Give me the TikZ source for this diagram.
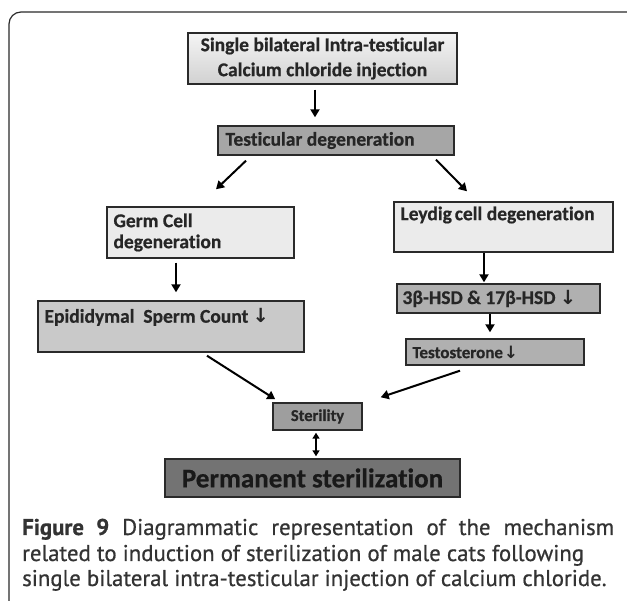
\documentclass[tikz,border=0pt]{standalone}
\usepackage{fontspec}
\setmainfont[Ligatures=NoCommon, BoldFeatures={FakeBold=0.6}]{Carlito}
\newfontfamily\capfont[FakeBold=0.7]{PT Sans}
\newfontfamily\symf{DejaVu Sans}
\usetikzlibrary{arrows.meta,shadows}
\definecolor{txtc}{HTML}{262626}
\definecolor{capc}{HTML}{333333}
\definecolor{linec}{HTML}{2A2A2A}
\newcommand{\dnarr}{{\symf\bfseries ↓}}
\begin{document}
\begin{tikzpicture}[x=1pt,y=-1pt,
  box/.style={draw=linec, line width=1.4pt, inner sep=0pt,
    drop shadow={shadow xshift=1.3pt,shadow yshift=-1.3pt,opacity=0.35}},
  btxt/.style={font=\bfseries\fontsize{19.5}{25}\selectfont, text=txtc, inner sep=0pt, align=center},
  ltxt/.style={font=\bfseries\fontsize{19.5}{21}\selectfont, text=txtc, inner sep=0pt, align=left},
  arr/.style={draw=black, line width=2pt, -{Triangle[length=8pt,width=9pt]}},
  darr/.style={draw=black, line width=2pt, {Triangle[length=6pt,width=7pt]}-{Triangle[length=6pt,width=7pt]}},
  capt/.style={font=\capfont\fontsize{22.8}{26}\selectfont, text=capc, inner sep=0pt, anchor=base west},
  frame/.style={draw=linec, line width=1.2pt}
]
\useasboundingbox (0,0) rectangle (627,601);
% outer frame (open on right and bottom)
\draw[frame] (9,601) -- (9,24) arc[start angle=180, end angle=90, radius=12pt] -- (627,12);

% boxes
\node[box, top color=white!96!black, bottom color=white!82!black, minimum width=269pt, minimum height=51pt] (top) at (322.5,58.5) {};
\node[box, fill=white!65!black, minimum width=236pt, minimum height=29pt] (testic) at (336,140.5) {};
\node[box, fill=white!92!black, minimum width=187pt, minimum height=51pt] (germ) at (200.5,232.5) {};
\node[box, fill=white!92!black, minimum width=219pt, minimum height=50pt] (leydig) at (503.5,227) {};
\node[box, fill=white!79!black, minimum width=266pt, minimum height=51pt] (epid) at (171,326.5) {};
\node[box, fill=white!69!black, minimum width=203pt, minimum height=29pt] (hsd) at (498.5,298.5) {};
\node[box, fill=white!69!black, minimum width=178pt, minimum height=26pt] (testo) at (495,352) {};
\node[box, fill=white!62!black, minimum width=89pt, minimum height=27pt] (ster) at (317.5,416.5) {};
\node[box, fill=white!45!black, minimum width=295pt, minimum height=38pt] (perm) at (312.5,478) {};

% texts
\node[btxt] (ttop) at (top.center) {Single bilateral Intra-testicular\\Calcium chloride injection};
\node[ltxt, anchor=west] (ttestic) at ([xshift=8pt]testic.west) {Testicular degeneration};
\node[ltxt, anchor=north west] (tgerm) at ([xshift=7pt,yshift=-7pt]germ.north west) {Germ Cell\\degeneration};
\node[ltxt, anchor=north west] (tleydig) at ([xshift=7pt,yshift=-5pt]leydig.north west) {Leydig\hspace{-1.5pt} cell degeneration};
\node[ltxt, anchor=north west] (tepid) at ([xshift=7pt,yshift=-8pt]epid.north west) {Epididymal\ \ Sperm Count \dnarr};
\node[btxt, anchor=west] (thsd) at ([xshift=6pt]hsd.west) {3β-HSD \& 17β-HSD \dnarr};
\node[ltxt, font=\bfseries\fontsize{17}{20}\selectfont, anchor=west] (ttesto) at ([xshift=7pt]testo.west) {Testosterone\hspace{1pt}\dnarr};
\node[btxt, font=\bfseries\fontsize{16.5}{20}\selectfont] (tster) at (ster.center) {Sterility};
\node[btxt, font=\bfseries\fontsize{27}{30}\selectfont, text=black!90] (tperm) at (perm.center) {Permanent sterilization};

% connectors
\draw[arr] ([xshift=-7.5pt,yshift=-5pt]top.south) -- ([xshift=-21pt,yshift=8pt]testic.north);
\draw[arr] ([xshift=-90pt,yshift=-5pt]testic.south) -- ([xshift=15.5pt,yshift=17pt]germ.north);
\draw[arr] ([xshift=100pt,yshift=-4pt]testic.south) -- ([xshift=-36.5pt,yshift=10pt]leydig.north);
\draw[arr] ([xshift=-24.5pt,yshift=-4pt]germ.south) -- ([xshift=5pt,yshift=8pt]epid.north);
\draw[arr] ([xshift=-19.5pt]leydig.south) -- ([xshift=-14.5pt,yshift=1pt]hsd.north);
\draw[arr] ([xshift=-8.5pt]hsd.south) -- ([xshift=-5pt,yshift=6pt]testo.north);
\draw[arr] ([xshift=36pt,yshift=-3pt]epid.south) -- ([xshift=3pt,yshift=3pt]ster.north west);
\draw[arr] ([xshift=-35pt,yshift=-5pt]testo.south) -- ([xshift=18pt,yshift=5pt]ster.north east);
\draw[darr] ([xshift=-1.5pt,yshift=-2pt]ster.south) -- ([xshift=3.5pt,yshift=2pt]perm.north);

% caption
\node[capt] (cap1) at (22,535) {\makebox[592pt][s]{{\bfseries Figure 9} Diagrammatic representation of the mechanism}};
\node[capt] (cap2) at (22,561) {related to induction of sterilization of male cats following};
\node[capt] (cap3) at (22,586) {single bilateral intra-testicular injection of calcium chloride.};
\end{tikzpicture}
\end{document}
